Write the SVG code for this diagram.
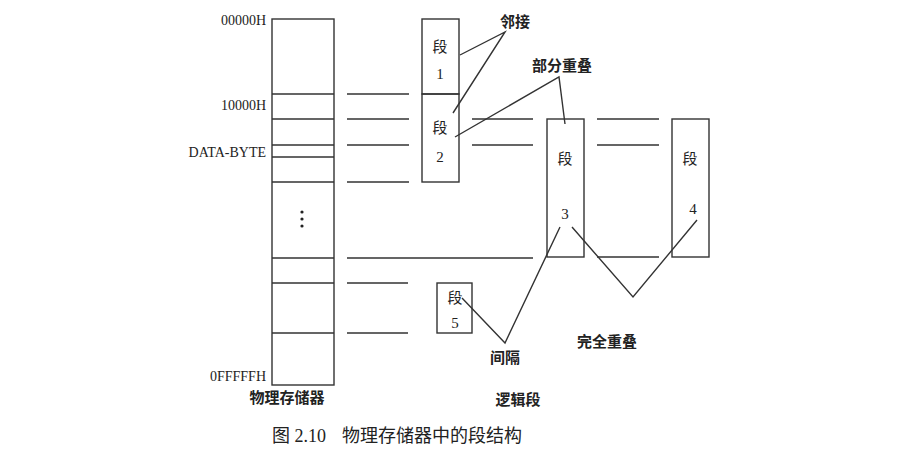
<svg xmlns="http://www.w3.org/2000/svg" width="897" height="462" viewBox="0 0 897 462">
<style>
.b{fill:none;stroke:#333;stroke-width:1.4}
.l{stroke:#333;stroke-width:1.4;fill:none}
text{font-family:"Liberation Serif","Noto Sans CJK SC",serif;fill:#222}
.c{font-size:15px}
.s{font-size:15px;text-anchor:middle}
.a{font-size:14px;text-anchor:end}
</style>
<rect width="897" height="462" fill="#fff"/>
<g id="memory">
<rect class="b" x="272" y="19" width="62" height="366"/>
<path class="l" d="M272 94H334M272 119H334M272 145H334M272 157H334M272 182H334M272 258H334M272 283H334M272 333H334"/>
<circle cx="302" cy="212" r="1.6" fill="#222"/><circle cx="302" cy="219" r="1.6" fill="#222"/><circle cx="302" cy="226" r="1.6" fill="#222"/>
<text class="a" x="266" y="25">00000H</text>
<text class="a" x="266" y="110">10000H</text>
<text class="a" x="266" y="157">DATA-BYTE</text>
<text class="a" x="266" y="381">0FFFFFH</text>
<text class="s" x="287" y="403" font-weight="bold">物理存储器</text>
</g>
<g id="seg1"><rect class="b" x="422" y="19" width="37" height="75"/><text class="s" x="440" y="52">段</text><text class="s" x="440" y="79">1</text></g>
<g id="seg2"><rect class="b" x="422" y="94" width="37" height="88"/><text class="s" x="440" y="133">段</text><text class="s" x="440" y="162">2</text></g>
<g id="seg3"><rect class="b" x="547" y="119" width="37" height="138"/><text class="s" x="565" y="164">段</text><text class="s" x="565" y="219">3</text></g>
<g id="seg4"><rect class="b" x="672" y="119" width="37" height="138"/><text class="s" x="690" y="164">段</text><text class="s" x="693" y="214">4</text></g>
<g id="seg5"><rect class="b" x="437" y="283" width="35" height="50"/><text class="s" x="455" y="303">段</text><text class="s" x="455" y="328">5</text></g>
<g id="connectors">
<path class="l" d="M347 94H409M347 119H409M347 145H409M347 182H409M472 119H533M472 145H533M597 119H659M597 145H659M347 258H533M597 257H659M347 283H408M347 333H408"/>
<path class="l" d="M460 55L505 32L453 113M455 137L559 77L565 124M572 227L633 297L697 220M462 298L505 343L560 227"/>
</g>
<g id="labels">
<text class="c" x="500" y="27" font-weight="bold">邻接</text>
<text class="c" x="532" y="71" font-weight="bold">部分重叠</text>
<text class="c" x="577" y="347" font-weight="bold">完全重叠</text>
<text class="c" x="490" y="363" font-weight="bold">间隔</text>
<text class="s" x="518" y="405" font-weight="bold">逻辑段</text>
<text x="272" y="442" font-size="18">图 2.10<tspan x="342">物理存储器中的段结构</tspan></text>
</g>
</svg>
